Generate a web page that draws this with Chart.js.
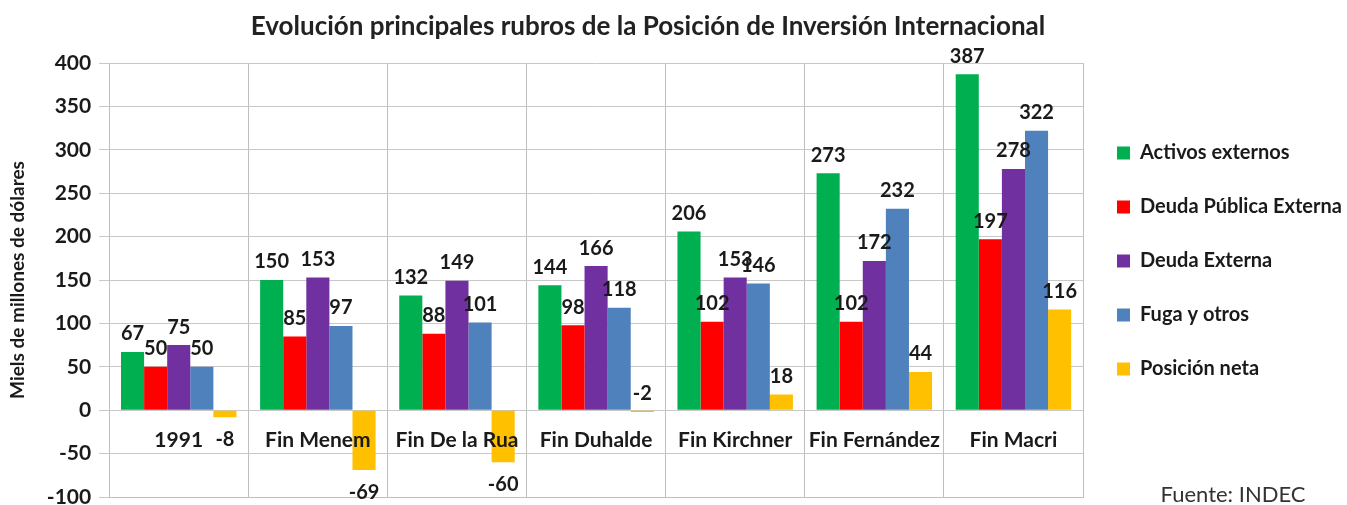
<!DOCTYPE html>
<html>
<head>
<meta charset="utf-8">
<script src="https://cdn.jsdelivr.net/npm/chart.js@4/dist/chart.umd.min.js"></script>
<style>
  html, body { margin: 0; padding: 0; background: #fff; }
  #wrap { width: 1347px; height: 505px; position: relative; }
</style>
</head>
<body>
<div id="wrap"><canvas id="chart"></canvas></div>
<script>
const periodos = ['1991', 'Fin Menem', 'Fin De la Rua', 'Fin Duhalde', 'Fin Kirchner', 'Fin Fernández', 'Fin Macri'];
const activosExternos = [67, 150, 132, 144, 206, 273, 387];
const deudaPublicaExterna = [50, 85, 88, 98, 102, 102, 197];
const deudaExterna = [75, 153, 149, 166, 153, 172, 278];
const fugaYOtros = [50, 97, 101, 118, 146, 232, 322];
const posicionNeta = [-8, -69, -60, -2, 18, 44, 116];

const tituloTexto = 'Evolución principales rubros de la Posición de Inversión Internacional';
const fuenteTexto = 'Fuente: INDEC';
const FONT = 'Lato, "Open Sans", sans-serif';

// etiquetas de valores, nombres de categorias, titulo y fuente
const textosPlugin = {
  id: 'textos',
  afterDatasetsDraw(chart) {
    const ctx = chart.ctx;
    const y = chart.scales.y;
    const x = chart.scales.x;
    ctx.save();
    ctx.fillStyle = '#1a1a1a';
    ctx.textAlign = 'center';
    ctx.font = 'bold 20px ' + FONT;
    chart.data.datasets.forEach((ds, i) => {
      const meta = chart.getDatasetMeta(i);
      meta.data.forEach((bar, j) => {
        const v = ds.data[j];
        if (v < -5) {
          ctx.textBaseline = 'top';
          ctx.fillText(String(v), bar.x, bar.y + 12);
        } else {
          ctx.textBaseline = 'bottom';
          ctx.fillText(String(v), bar.x, bar.y - 8);
        }
      });
    });
    // nombres de periodos debajo del cero
    ctx.font = 'bold 21px ' + FONT;
    ctx.textBaseline = 'middle';
    periodos.forEach((p, i) => {
      ctx.fillText(p, x.getPixelForTick(i), y.getPixelForValue(-35));
    });
    ctx.restore();
  },
  afterDraw(chart) {
    const ctx = chart.ctx;
    ctx.save();
    ctx.fillStyle = '#222';
    ctx.textAlign = 'center';
    ctx.textBaseline = 'middle';
    ctx.font = 'bold 26px ' + FONT;
    ctx.fillText(tituloTexto, 648, 27);
    ctx.font = '22px ' + FONT;
    ctx.fillStyle = '#333';
    ctx.fillText(fuenteTexto, 1233, 495);
    ctx.restore();
  }
};

new Chart(document.getElementById('chart'), {
  type: 'bar',
  data: {
    labels: periodos,
    datasets: [
      { label: 'Activos externos', data: activosExternos, backgroundColor: '#00B050' },
      { label: 'Deuda Pública Externa', data: deudaPublicaExterna, backgroundColor: '#FF0000' },
      { label: 'Deuda Externa', data: deudaExterna, backgroundColor: '#7030A0' },
      { label: 'Fuga y otros', data: fugaYOtros, backgroundColor: '#4F81BD' },
      { label: 'Posición neta', data: posicionNeta, backgroundColor: '#FFC000' }
    ]
  },
  options: {
    responsive: true,
    maintainAspectRatio: false,
    animation: false,
    layout: { padding: { top: 63, bottom: 8, left: 6, right: 0 } },
    datasets: { bar: { categoryPercentage: 0.83, barPercentage: 1.0 } },
    scales: {
      x: {
        grid: { display: true, offset: true, color: '#bfbfbf', drawTicks: false },
        border: { display: true, color: '#bfbfbf' },
        ticks: { display: false },
        afterFit: (s) => { s.height = 0; }
      },
      y: {
        min: -100,
        max: 400,
        ticks: { stepSize: 50, color: '#1a1a1a', font: { family: FONT, size: 21, weight: 'bold', lineHeight: 1 }, padding: 8 },
        grid: { color: '#c8c8c8', drawTicks: true, tickLength: 10 },
        border: { display: true, color: '#bfbfbf' },
        title: {
          display: true,
          text: 'Miels de millones de dólares',
          color: '#1a1a1a',
          font: { family: FONT, size: 19, weight: 'bold' },
          padding: { top: 0, bottom: 10 }
        },
        afterFit: (s) => { s.paddingBottom = 0; }
      }
    },
    plugins: {
      title: { display: false },
      tooltip: { enabled: false },
      legend: {
        position: 'right',
        align: 'start',
        maxWidth: 264,
        title: { display: true, text: '', font: { size: 10 }, padding: { top: 0, bottom: 34 } },
        labels: {
          color: '#1a1a1a',
          font: { family: FONT, size: 20, weight: 'bold' },
          boxWidth: 13,
          boxHeight: 13,
          padding: 34
        }
      }
    }
  },
  plugins: [textosPlugin]
});
</script>
</body>
</html>
